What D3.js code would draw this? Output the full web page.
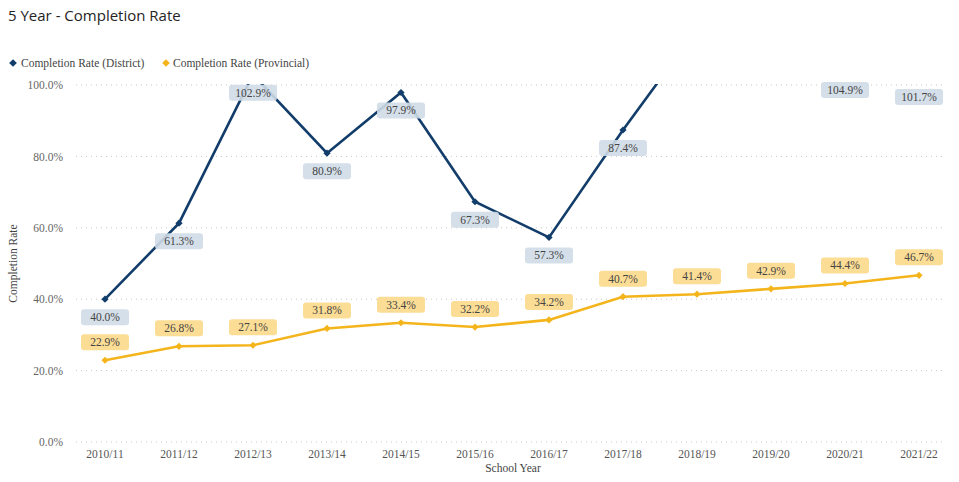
<!DOCTYPE html>
<html><head><meta charset="utf-8">
<script src="https://cdn.jsdelivr.net/npm/d3@7"></script>
<style>body{margin:0;background:#fff}svg{display:block}</style>
</head><body>
<svg id="c" width="959" height="482"></svg>
<script>
const categories = ["2010/11","2011/12","2012/13","2013/14","2014/15","2015/16","2016/17","2017/18","2018/19","2019/20","2020/21","2021/22"];
const district = [40.0, 61.3, 102.9, 80.9, 97.9, 67.3, 57.3, 87.4, 115.7, 112.0, 104.9, 101.7];
const districtLabelShown = [true,true,true,true,true,true,true,true,false,false,true,true];
const provincial = [22.9, 26.8, 27.1, 31.8, 33.4, 32.2, 34.2, 40.7, 41.4, 42.9, 44.4, 46.7];
const yTicks = [0, 20, 40, 60, 80, 100];
const seriesNames = ["Completion Rate (District)", "Completion Rate (Provincial)"];

(function () {
const svg = d3.select("#c");
const serif = "'Liberation Serif','Times New Roman',serif";
const cDist = "#123d6a", cProv = "#f4b51c";
const pTop = 85, pBottom = 442, pLeft = 68, pRight = 956;

const x = d3.scaleBand().domain(categories).range([pLeft, pRight]);
const y = d3.scaleLinear().domain([0, 100]).range([pBottom, pTop]);
const cx = d => x(d) + x.bandwidth() / 2;

svg.append("text").attr("x", 8).attr("y", 21).text("5 Year - Completion Rate")
  .attr("font-family", "'Segoe UI','Open Sans',sans-serif").attr("font-size", 15).attr("fill", "#252423");

// legend
const sq = d3.symbol().type(d3.symbolSquare);
const lg = svg.append("g");
[[13, cDist, 21, seriesNames[0]], [166, cProv, 173, seriesNames[1]]].forEach(([mx, col, tx, t]) => {
  lg.append("path").attr("d", sq.size(30)()).attr("transform", `translate(${mx},63) rotate(45)`).attr("fill", col);
  lg.append("text").attr("x", tx).attr("y", 67).text(t).attr("font-family", serif).attr("font-size", 11.5).attr("fill", "#444");
});

// gridlines + y axis
const yAxis = d3.axisLeft(y).tickValues(yTicks).tickFormat(d => d3.format(".1f")(d) + "%").tickSize(0);
const yg = svg.append("g").attr("transform", `translate(66,0)`).call(yAxis);
yg.select(".domain").remove();
yg.selectAll("text").attr("font-family", serif).attr("font-size", 11.5).attr("fill", "#666").attr("dx", 0);
svg.append("g").selectAll("line").data(yTicks).join("line")
  .attr("x1", 76).attr("x2", 946).attr("y1", d => y(d)).attr("y2", d => y(d))
  .attr("stroke", "#c8c8c8").attr("stroke-dasharray", "1,4");

// x axis
const xAxis = d3.axisBottom(x).tickSize(0);
const xg = svg.append("g").attr("transform", `translate(0,${pBottom})`).call(xAxis);
xg.select(".domain").remove();
xg.selectAll("text").attr("font-family", serif).attr("font-size", 11.5).attr("fill", "#555").attr("dy", "1.1em");

svg.append("text").attr("x", 513).attr("y", 472).attr("text-anchor", "middle").text("School Year")
  .attr("font-family", serif).attr("font-size", 11.5).attr("fill", "#444");
svg.append("text").attr("transform", `translate(17,${(pTop + pBottom) / 2}) rotate(-90)`).attr("text-anchor", "middle")
  .text("Completion Rate").attr("font-family", serif).attr("font-size", 11.5).attr("fill", "#444");

svg.append("defs").append("clipPath").attr("id", "clip").append("rect")
  .attr("x", pLeft).attr("y", pTop - 1).attr("width", pRight - pLeft).attr("height", pBottom - pTop + 10);

const plot = svg.append("g").attr("clip-path", "url(#clip)");
const line = d3.line().x((d, i) => cx(categories[i])).y(d => y(d));
[[provincial, cProv], [district, cDist]].forEach(([data, col]) => {
  plot.append("path").datum(data).attr("d", line).attr("fill", "none").attr("stroke", col).attr("stroke-width", 2.6);
  plot.selectAll(null).data(data).join("path").attr("d", sq.size(26)())
    .attr("transform", (d, i) => `translate(${cx(categories[i])},${y(d)}) rotate(45)`).attr("fill", col);
});

// labels
function labels(data, shown, fill, dy, minY) {
  const g = svg.append("g");
  data.forEach((v, i) => {
    if (!shown[i]) return;
    let ly = Math.max(y(v) + dy, minY);
    const lx = cx(categories[i]);
    g.append("rect").attr("x", lx - 24).attr("y", ly - 8).attr("width", 48).attr("height", 16).attr("rx", 3)
      .attr("fill", fill).attr("opacity", 0.9);
    g.append("text").attr("x", lx).attr("y", ly + 4).attr("text-anchor", "middle").text(d3.format(".1f")(v) + "%")
      .attr("font-family", serif).attr("font-size", 11.5).attr("fill", "#444");
  });
}
labels(district, districtLabelShown, "#cfdbe7", 18, 90);
labels(provincial, provincial.map(() => true), "#fcd98a", -18, 0);
})();
</script>
</body></html>
